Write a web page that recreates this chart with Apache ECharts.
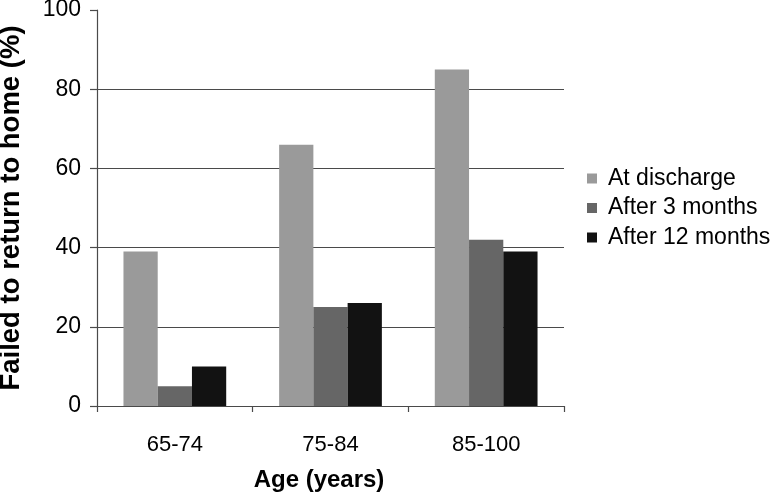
<!DOCTYPE html>
<html>
<head>
<meta charset="utf-8">
<script src="https://cdn.jsdelivr.net/npm/echarts@6/dist/echarts.min.js"></script>
<style>html,body{margin:0;padding:0;background:#fff;}#c{width:774px;height:495px;}</style>
</head>
<body>
<div id="c"></div>
<script>
const categories = ['65-74', '75-84', '85-100'];
const seriesNames = ['At discharge', 'After 3 months', 'After 12 months'];
const atDischarge = [39, 66, 85];
const after3Months = [5, 25, 42];
const after12Months = [10, 26, 39];
const yTicks = [0, 20, 40, 60, 80, 100];

const colors = ['#9a9a9a', '#666666', '#121212'];
const values = [atDischarge, after3Months, after12Months];
const font = '"Liberation Sans", Arial, sans-serif';
const lineColor = '#4a4a4a';

const chart = echarts.init(document.getElementById('c'), null, {renderer: 'canvas'});
chart.setOption({
  animation: false,
  backgroundColor: '#fff',
  grid: {left: 97, right: 210, top: 10, bottom: 89, containLabel: false, outerBoundsMode: 'none'},
  legend: {
    orient: 'vertical',
    left: 587,
    top: 167,
    padding: 0,
    itemWidth: 10,
    itemHeight: 10,
    itemGap: 6.5,
    icon: 'rect',
    data: seriesNames,
    textStyle: {fontFamily: font, fontSize: 23, color: '#000', padding: [0, 0, 0, 6]}
  },
  xAxis: {
    type: 'category',
    data: categories,
    name: 'Age (years)',
    nameLocation: 'middle',
    nameGap: 62,
    nameTextStyle: {fontFamily: font, fontSize: 24, fontWeight: 'bold', color: '#000', padding: [0, 23, 0, 0]},
    axisLine: {lineStyle: {color: lineColor, width: 1.2}},
    axisTick: {show: true, length: 6, lineStyle: {color: lineColor, width: 1.2}},
    axisLabel: {fontFamily: font, fontSize: 22, color: '#000', margin: 28}
  },
  yAxis: {
    type: 'value',
    min: yTicks[0],
    max: yTicks[yTicks.length - 1],
    interval: 20,
    name: 'Failed to return to home (%)',
    nameLocation: 'middle',
    nameGap: 72,
    nameTextStyle: {fontFamily: font, fontSize: 27.5, fontWeight: 'bold', color: '#000'},
    axisLine: {show: true, lineStyle: {color: lineColor, width: 1.2}},
    axisTick: {show: true, length: 7, lineStyle: {color: lineColor, width: 1.2}},
    axisLabel: {fontFamily: font, fontSize: 23, color: '#000', margin: 16},
    splitLine: {show: true, showMaxLine: false, lineStyle: {color: lineColor, width: 1.2}}
  },
  series: seriesNames.map((n, i) => ({
    name: n,
    type: 'bar',
    data: values[i],
    barGap: '0%',
    barCategoryGap: '34%',
    itemStyle: {color: colors[i]}
  }))
});
</script>
</body>
</html>
